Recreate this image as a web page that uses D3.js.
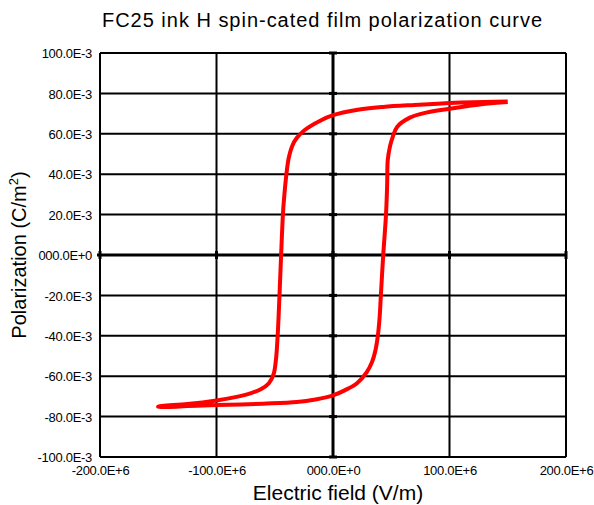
<!DOCTYPE html>
<html>
<head>
<meta charset="utf-8">
<script src="https://cdn.jsdelivr.net/npm/d3@7"></script>
<style>
  body { margin: 0; background: #fff; }
  svg text { font-family: "Liberation Sans", Arial, sans-serif; fill: #000; }
  .tick-label { font-size: 13px; letter-spacing: -0.3px; }
</style>
</head>
<body>
<div id="chart"></div>
<script>
// field in 1e6 V/m, polarization in 1e-3 C/m^2
const descendingE = [150, 130, 100, 70, 43, 20, 0, -11, -24, -31, -35, -38, -40, -42, -43, -44.6, -46, -47.5, -49, -51, -55, -62, -71, -85, -100, -125, -150];
const descendingP = [76.0, 75.8, 75.2, 74.3, 73.3, 71.8, 69.2, 66.5, 62, 58, 54, 48, 40, 28, 20, -1, -21, -40, -52, -59, -63.5, -66.5, -68.5, -70.5, -72, -73.8, -75];
const ascendingE = [-150, -125, -100, -60, -31, -15, 0, 10, 20.6, 29, 33.5, 36.5, 38.5, 40, 41, 43, 45.5, 46.5, 47, 49, 51, 55, 66, 80, 100, 129, 150];
const ascendingP = [-75.2, -74.8, -74.3, -73.6, -72.8, -71.5, -69.5, -67, -63.5, -58, -53, -47, -40, -31, -21, -1, 20, 35, 47, 54, 58, 63.4, 68, 70.5, 72.4, 74.8, 75.8];

const xTicks = [-200, -100, 0, 100, 200];
const xTickLabels = ['-200.0E+6', '-100.0E+6', '000.0E+0', '100.0E+6', '200.0E+6'];
const yTicks = [100, 80, 60, 40, 20, 0, -20, -40, -60, -80, -100];
const yTickLabels = ['100.0E-3', '80.0E-3', '60.0E-3', '40.0E-3', '20.0E-3', '000.0E+0',
  '-20.0E-3', '-40.0E-3', '-60.0E-3', '-80.0E-3', '-100.0E-3'];

const width = 594, height = 505;
const plot = { left: 100, right: 566, top: 53, bottom: 457 };

const svg = d3.select('#chart').append('svg')
  .attr('width', width)
  .attr('height', height);

const x = d3.scaleLinear().domain([-200, 200]).range([plot.left, plot.right]);
const y = d3.scaleLinear().domain([-100, 100]).range([plot.bottom, plot.top]);

// grid
const grid = svg.append('g').attr('stroke', '#000');
grid.selectAll('line.v')
  .data(xTicks)
  .enter().append('line')
  .attr('x1', d => x(d)).attr('x2', d => x(d))
  .attr('y1', plot.top).attr('y2', plot.bottom)
  .attr('stroke-width', d => d === 0 ? 3 : 2);
grid.selectAll('line.h')
  .data(yTicks)
  .enter().append('line')
  .attr('y1', d => y(d)).attr('y2', d => y(d))
  .attr('x1', d => d === 0 ? plot.left - 3 : plot.left).attr('x2', plot.right)
  .attr('stroke-width', d => d === 0 ? 3 : 2);

// small tick nubs on the centre axes
grid.selectAll('line.ny')
  .data(yTicks)
  .enter().append('line')
  .attr('x1', x(0) - 4).attr('x2', x(0) + 4)
  .attr('y1', d => y(d)).attr('y2', d => y(d))
  .attr('stroke-width', 3);
grid.selectAll('line.nx')
  .data(xTicks)
  .enter().append('line')
  .attr('x1', d => x(d)).attr('x2', d => x(d))
  .attr('y1', y(0) - 4).attr('y2', y(0) + 4)
  .attr('stroke-width', 3);

// tick labels
const yAxis = d3.axisLeft(y).tickValues(yTicks)
  .tickFormat((d, i) => yTickLabels[i]).tickSize(0).tickPadding(8);
svg.append('g')
  .attr('transform', `translate(${plot.left},0)`)
  .call(yAxis)
  .call(g => g.select('.domain').remove())
  .selectAll('text').attr('class', 'tick-label').attr('dy', '0.36em');

const xAxis = d3.axisBottom(x).tickValues(xTicks)
  .tickFormat((d, i) => xTickLabels[i]).tickSize(0).tickPadding(9);
svg.append('g')
  .attr('transform', `translate(0,${plot.bottom})`)
  .call(xAxis)
  .call(g => g.select('.domain').remove())
  .selectAll('text').attr('class', 'tick-label');

// loop
const line = d3.line()
  .x(d => x(d[0]))
  .y(d => y(d[1]))
  .curve(d3.curveCatmullRom.alpha(0.5));

const loop = descendingE.map((e, i) => [e, descendingP[i]])
  .concat(ascendingE.map((e, i) => [e, ascendingP[i]]));

svg.append('path')
  .datum(loop)
  .attr('fill', 'none')
  .attr('stroke', '#ff0000')
  .attr('stroke-width', 4)
  .attr('stroke-linejoin', 'round')
  .attr('d', line);

// titles
svg.append('text')
  .attr('x', 322).attr('y', 27)
  .attr('text-anchor', 'middle')
  .attr('font-size', 20)
  .attr('textLength', 440)
  .attr('lengthAdjust', 'spacing')
  .text('FC25 ink H spin-cated film polarization curve');

svg.append('text')
  .attr('x', 338).attr('y', 500)
  .attr('text-anchor', 'middle')
  .attr('font-size', 21)
  .text('Electric field (V/m)');

const yTitle = svg.append('text')
  .attr('transform', `translate(26,${(plot.top + plot.bottom) / 2}) rotate(-90)`)
  .attr('text-anchor', 'middle')
  .attr('font-size', 20);
yTitle.append('tspan').text('Polarization (C/m');
yTitle.append('tspan').attr('font-size', 13).attr('dy', -8).text('2');
yTitle.append('tspan').attr('dy', 8).text(')');
</script>
</body>
</html>
